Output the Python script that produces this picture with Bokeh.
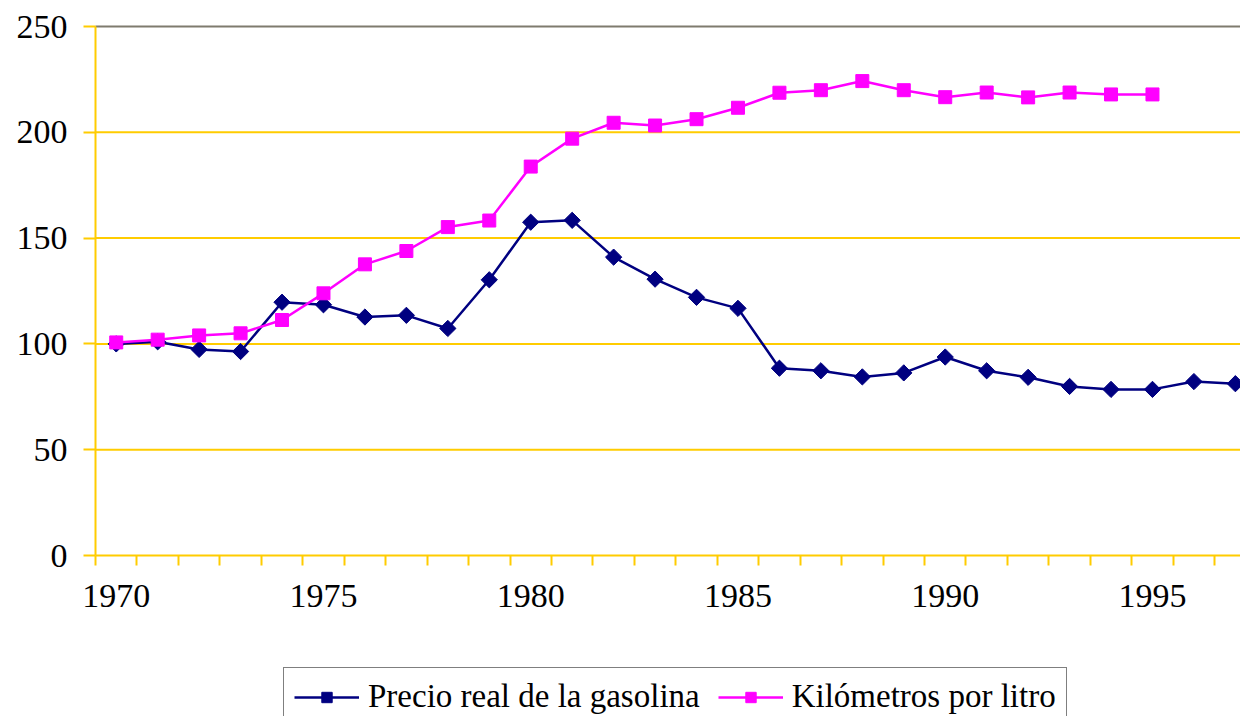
import math
from bokeh.plotting import figure
from bokeh.models import FixedTicker, Legend, LegendItem, Range1d
from bokeh.embed import file_html
from bokeh.resources import INLINE

# ---- data ----
precio_years = list(range(1970, 1998))
precio = [100, 101, 97.4, 96.4, 119.7, 118.5, 112.7, 113.5, 107.3, 130.3,
          157.5, 158.4, 141.0, 130.6, 122.0, 116.8, 88.5, 87.3, 84.4, 86.3,
          93.8, 87.3, 84.2, 79.9, 78.5, 78.5, 82.2, 81.2]
km_years = list(range(1970, 1996))
km = [100.7, 102.0, 104.0, 105.0, 111.3, 123.9, 137.6, 143.9, 155.2, 158.3,
      183.8, 197.0, 204.5, 203.2, 206.2, 211.6, 218.7, 219.9, 224.2, 219.9,
      216.6, 218.8, 216.5, 218.8, 217.9, 217.9]
x_label_years = [1970, 1975, 1980, 1985, 1990, 1995]
y_ticks = [0, 50, 100, 150, 200, 250]
series_names = ["Precio real de la gasolina", "Kilómetros por litro"]

YELLOW = "#FFCC00"
NAVY = "#000080"
MAGENTA = "#FF00FF"
GRAY = "#7F7B6E"
FONT = "Liberation Serif"

W, H = 1240, 716
# plot area: left edge at 95 px, top (250) at 26 px, zero at 555 px
PX_PER_YEAR = 41.45
PX_PER_UNIT = 529 / 250
X_AXIS_START = 1969.5
X_END = X_AXIS_START + (W - 95) / PX_PER_YEAR
X_START = X_AXIS_START - 95 / PX_PER_YEAR
Y_TOP = 250 + 26 / PX_PER_UNIT
Y_BOTTOM = 250 - (H - 26) / PX_PER_UNIT

p = figure(frame_width=W, frame_height=H,
           min_border_left=0, min_border_right=0, min_border_top=0, min_border_bottom=0,
           x_range=Range1d(X_START, X_END), y_range=Range1d(Y_BOTTOM, Y_TOP),
           output_backend="svg", toolbar_location=None)

p.outline_line_color = None
p.background_fill_color = "white"
p.border_fill_color = "white"

p.xgrid.visible = False
p.ygrid.visible = False

# horizontal gridlines limited to the plot area
grid_vals = y_ticks[1:-1]
p.segment(x0=[X_AXIS_START] * len(grid_vals), y0=grid_vals,
          x1=[X_END + 1] * len(grid_vals), y1=grid_vals,
          line_color=YELLOW, line_width=2)
# top border of plot area (grey)
p.segment(x0=[X_AXIS_START], y0=[y_ticks[-1]], x1=[X_END + 1], y1=[y_ticks[-1]],
          line_color=GRAY, line_width=2)

# y axis pinned at the plot-area edge
p.yaxis.fixed_location = X_AXIS_START
p.yaxis.bounds = (y_ticks[0], y_ticks[-1])
p.yaxis.ticker = FixedTicker(ticks=y_ticks)
p.yaxis.axis_line_color = YELLOW
p.yaxis.axis_line_width = 2
p.yaxis.major_tick_line_color = YELLOW
p.yaxis.major_tick_line_width = 2
p.yaxis.major_tick_out = 12
p.yaxis.major_tick_in = 0
p.yaxis.minor_tick_line_color = None
p.yaxis.major_label_text_font = FONT
p.yaxis.major_label_text_font_size = "34px"
p.yaxis.major_label_text_color = "black"
p.yaxis.major_label_standoff = 16

# x axis pinned at value 0
p.xaxis.fixed_location = 0
p.xaxis.bounds = (X_AXIS_START, X_END + 1)
p.xaxis.ticker = FixedTicker(ticks=x_label_years,
                             minor_ticks=[y - 0.5 for y in precio_years] + [1997.5])
p.xaxis.axis_line_color = YELLOW
p.xaxis.axis_line_width = 2
p.xaxis.major_tick_line_color = None
p.xaxis.major_tick_out = 0
p.xaxis.major_tick_in = 0
p.xaxis.minor_tick_line_color = YELLOW
p.xaxis.minor_tick_line_width = 2
p.xaxis.minor_tick_out = 10
p.xaxis.minor_tick_in = 0
p.xaxis.major_label_text_font = FONT
p.xaxis.major_label_text_font_size = "34px"
p.xaxis.major_label_text_color = "black"
p.xaxis.major_label_standoff = 19

l1 = p.line(precio_years, precio, line_color=NAVY, line_width=2.5)
s1 = p.scatter(precio_years, precio, marker="square", angle=math.pi / 4, size=11.5,
               fill_color=NAVY, line_color=NAVY)
l2 = p.line(km_years, km, line_color=MAGENTA, line_width=2.5)
s2 = p.scatter(km_years, km, marker="square", size=13,
               fill_color=MAGENTA, line_color=MAGENTA)

legend = Legend(items=[LegendItem(label=series_names[0], renderers=[l1, s1]),
                       LegendItem(label=series_names[1], renderers=[l2, s2])],
                orientation="horizontal", location=(283, -10),
                label_text_font=FONT, label_text_font_size="33px",
                label_text_color="black", glyph_width=65, glyph_height=26,
                label_standoff=9, spacing=18, padding=10, margin=0,
                border_line_color="black", border_line_width=1,
                background_fill_color="white", background_fill_alpha=1)
p.add_layout(legend, "center")

open("out.html", "w").write(file_html(p, INLINE))
